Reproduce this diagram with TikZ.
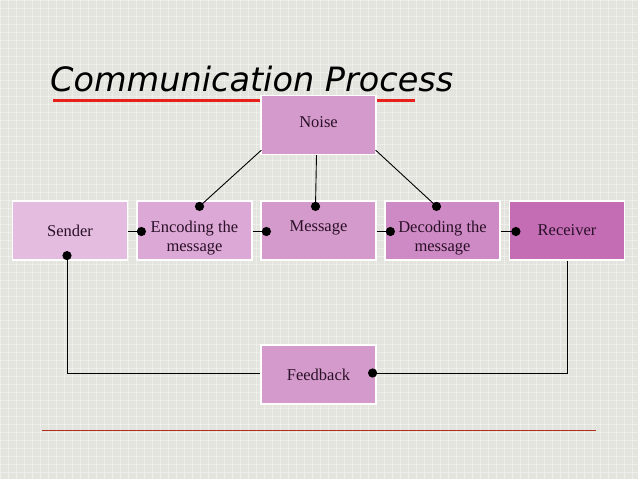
\documentclass[tikz,border=0pt]{standalone}
\usepackage{fontspec}
\setmainfont{Liberation Serif}
\newfontfamily\titlefont{DejaVu Sans}
\definecolor{bg}{HTML}{E4E4DE}
\definecolor{cSender}{HTML}{E4BCDF}
\definecolor{cEnc}{HTML}{DCA8D5}
\definecolor{cMsg}{HTML}{D49ACB}
\definecolor{cDec}{HTML}{CE8AC4}
\definecolor{cRec}{HTML}{C46DB5}
\definecolor{ulred}{HTML}{E8201C}
\definecolor{lnred}{HTML}{B03020}
\definecolor{txt}{HTML}{2A1028}
\newcommand{\twoline}[2]{\raisebox{-7pt}[\height][\depth]{\begin{tabular}{@{}c@{}}#1\\[-1pt]#2\end{tabular}}}
\begin{document}
\begin{tikzpicture}[x=1pt,y=-1pt,
  box/.style={draw=white,line width=1.2pt,minimum width=115pt,minimum height=59pt,
    inner sep=0pt,align=center,font=\fontsize{16.5}{20}\selectfont,text=txt},
  conn/.style={draw=black,line width=0.9pt},
  dotend/.style={fill=black}]
\useasboundingbox (0,0) rectangle (638,479);
\fill[bg] (0,0) rectangle (638,479);
\foreach \i in {0,8,...,638} \draw[white,opacity=0.35,line width=0.6pt] (\i,0) -- (\i,479);
\foreach \j in {0,8,...,479} \draw[white,opacity=0.35,line width=0.6pt] (0,\j) -- (638,\j);
% title
\node[anchor=base west,inner sep=0pt,font=\titlefont\itshape\fontsize{33.5}{40}\selectfont] (title) at (50,91) {Communication Process};
\draw[ulred,line width=3pt] (53,100) -- (415,100);
% boxes
\node[box,fill=cMsg] (noise) at (318.5,125) {\raisebox{3pt}[\height][\depth]{Noise}};
\node[box,fill=cSender] (sender) at (70,230.5) {Sender};
\node[box,fill=cEnc] (enc) at (194.5,230.5) {\twoline{Encoding the}{message}};
\node[box,fill=cMsg] (msg) at (318.5,230.5) {\raisebox{3pt}[\height][\depth]{Message}};
\node[box,fill=cDec] (dec) at (442.5,230.5) {\twoline{Decoding the}{message}};
\node[box,fill=cRec] (rec) at (567,230.5) {Receiver};
\node[box,fill=cMsg] (fb) at (318.5,374.5) {Feedback};
% dot coordinates
\coordinate (dEnc) at ([xshift=5pt,yshift=-6pt]enc.north);
\coordinate (dMsg) at ([xshift=-3pt,yshift=-6pt]msg.north);
\coordinate (dDec) at ([xshift=-6pt,yshift=-6pt]dec.north);
\coordinate (dEncL) at ([xshift=5pt,yshift=-1pt]enc.west);
\coordinate (dMsgL) at ([xshift=6pt,yshift=-1pt]msg.west);
\coordinate (dDecL) at ([xshift=6pt,yshift=-1pt]dec.west);
\coordinate (dRecL) at ([xshift=7pt,yshift=-1pt]rec.west);
\coordinate (dFb) at ([xshift=-4pt,yshift=1.5pt]fb.east);
\coordinate (dSen) at ([xshift=-3pt,yshift=5pt]sender.south);
% connectors
\draw[conn] ([xshift=1pt,yshift=5pt]noise.south west) -- (dEnc);
\draw[conn] ([xshift=-2pt]noise.south) -- (dMsg);
\draw[conn] ([xshift=-1pt,yshift=5pt]noise.south east) -- (dDec);
\draw[conn] ([yshift=-1pt]sender.east) -- (dEncL);
\draw[conn] ([yshift=-1pt]enc.east) -- (dMsgL);
\draw[conn] ([yshift=-1pt]msg.east) -- (dDecL);
\draw[conn] ([yshift=-1pt]dec.east) -- (dRecL);
\draw[conn] (rec.south) |- (dFb);
\draw[conn] ([yshift=1.5pt]fb.west) -| (dSen);
\foreach \c in {dEnc,dMsg,dDec,dEncL,dMsgL,dDecL,dRecL,dFb,dSen}
  \fill[dotend] (\c) circle[radius=4.6pt];
% bottom line
\draw[lnred,line width=0.8pt] (42,430) -- (596,430);
\end{tikzpicture}
\end{document}
